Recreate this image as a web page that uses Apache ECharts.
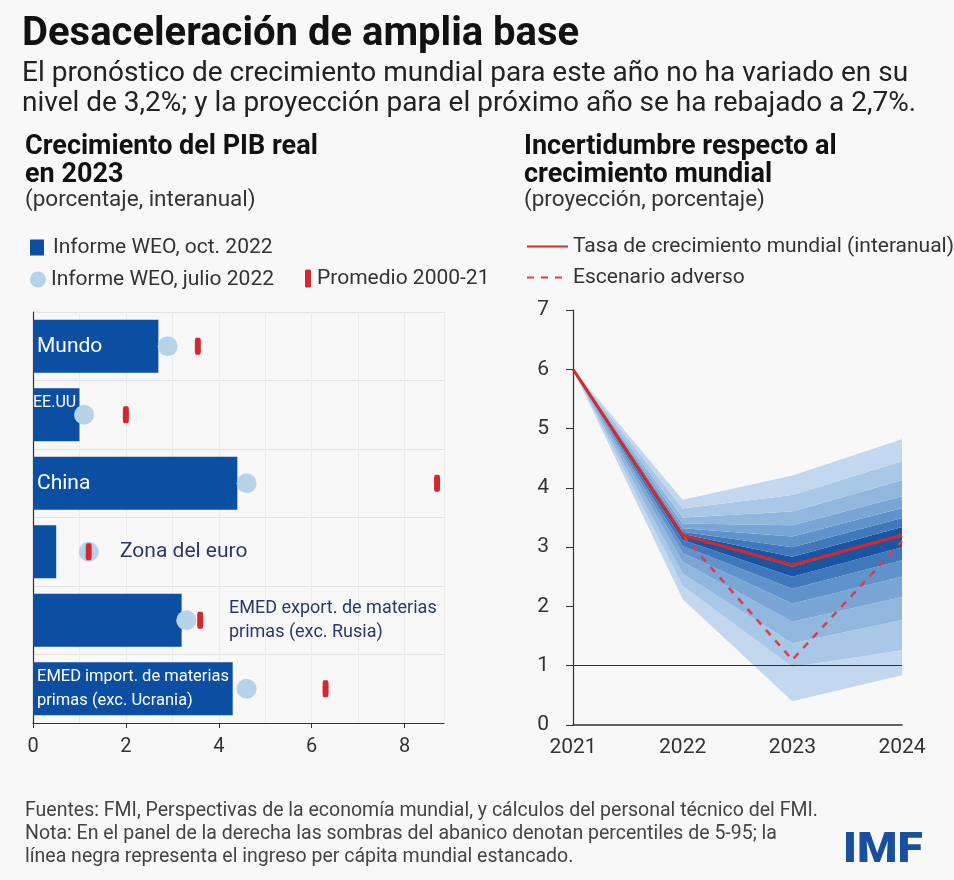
<!DOCTYPE html>
<html>
<head>
<meta charset="utf-8">
<title>Desaceleración de amplia base</title>
<script src="https://cdn.jsdelivr.net/npm/echarts@6/dist/echarts.min.js"></script>
<style>
  html, body { margin: 0; padding: 0; background: #f8f8f8; }
  #main { width: 954px; height: 880px; }
</style>
</head>
<body>
<div id="main"></div>
<script>
var chart = echarts.init(document.getElementById('main'));

// Panel izquierdo: crecimiento del PIB real en 2023
var regiones = ['Mundo', 'EE.UU', 'China', 'Zona del euro',
  'EMED export. de materias\nprimas (exc. Rusia)',
  'EMED import. de materias\nprimas (exc. Ucrania)'];
var weoOct = [2.7, 1.0, 4.4, 0.5, 3.2, 4.3];
var weoJul = [2.9, 1.1, 4.6, 1.2, 3.3, 4.6];
var promedio = [3.55, 2.0, 8.7, 1.2, 3.6, 6.3];
var ticksIzq = [0, 2, 4, 6, 8];

// Panel derecho: incertidumbre respecto al crecimiento mundial
var anios = ['2021', '2022', '2023', '2024'];
var tasa = [6.0, 3.2, 2.7, 3.2];
var adverso = [null, 3.2, 1.1, 3.1];
var ticksDer = [0, 1, 2, 3, 4, 5, 6, 7];
// bordes del abanico, de abajo (p5) hacia arriba (p95)
var abanico = [
  [6.0, 2.12, 0.40, 0.84],
  [6.0, 2.35, 0.98, 1.26],
  [6.0, 2.55, 1.38, 1.77],
  [6.0, 2.75, 1.74, 2.16],
  [6.0, 2.90, 2.05, 2.50],
  [6.0, 3.02, 2.30, 2.78],
  [6.0, 3.12, 2.50, 3.00],
  [6.0, 3.20, 2.67, 3.20],
  [6.0, 3.22, 2.84, 3.34],
  [6.0, 3.26, 3.00, 3.49],
  [6.0, 3.32, 3.18, 3.66],
  [6.0, 3.40, 3.37, 3.86],
  [6.0, 3.50, 3.60, 4.13],
  [6.0, 3.65, 3.88, 4.45],
  [6.0, 3.80, 4.21, 4.82]
];

var FONT = 'Roboto, sans-serif';
var AZUL = '#0b4ea2';
var ROJO = '#d3282e';
var coloresAbanico = ['#c3d8ee', '#a9c7e6', '#92b7de', '#7aa6d6', '#6093cb', '#4178bb', '#1a55a3'];

// estilo de las etiquetas dentro / junto a las barras
var estiloEtiqueta = [
  { position: [4, '50%'], color: '#fff', fontSize: 21 },
  { position: [0, 15], color: '#fff', fontSize: 16 },
  { position: [4, '50%'], color: '#fff', fontSize: 21 },
  { position: [87, '50%'], color: '#2b3866', fontSize: 21 },
  { position: [196, '50%'], color: '#2b3866', fontSize: 18, lineHeight: 24 },
  { position: [4, '50%'], color: '#fff', fontSize: 16.5, lineHeight: 24 }
];

var barras = weoOct.map(function (v, i) {
  var e = estiloEtiqueta[i];
  return {
    value: v,
    label: {
      show: true, position: e.position, align: 'left', verticalAlign: 'middle',
      color: e.color, fontSize: e.fontSize, lineHeight: e.lineHeight || e.fontSize + 2,
      fontFamily: FONT, overflow: 'none', formatter: regiones[i]
    }
  };
});

var series = [
  {
    name: 'Informe WEO, oct. 2022', type: 'bar', xAxisIndex: 0, yAxisIndex: 0,
    data: barras, barWidth: 53, itemStyle: { color: AZUL }, z: 2
  },
  {
    name: 'Informe WEO, julio 2022', type: 'scatter', xAxisIndex: 0, yAxisIndex: 0,
    data: weoJul, symbol: 'circle', symbolSize: 20, itemStyle: { color: '#b7d3ea', opacity: 1 }, z: 3
  },
  {
    name: 'Promedio 2000-21', type: 'scatter', xAxisIndex: 0, yAxisIndex: 0,
    data: promedio, symbol: 'roundRect', symbolSize: [6, 17], itemStyle: { color: ROJO, opacity: 1 }, z: 4
  }
];

// abanico apilado
series.push({
  type: 'line', xAxisIndex: 1, yAxisIndex: 1, data: abanico[0], stack: 'fan',
  symbol: 'none', lineStyle: { width: 0 }, silent: true, z: 1
});
for (var i = 1; i < abanico.length; i++) {
  var nivel = Math.min(i - 1, abanico.length - 1 - i);
  (function (fila, previa, color) {
    series.push({
      type: 'line', xAxisIndex: 1, yAxisIndex: 1, stack: 'fan',
      data: fila.map(function (v, j) { return +(v - previa[j]).toFixed(3); }),
      symbol: 'none', lineStyle: { width: 0 }, silent: true, z: 1,
      areaStyle: { color: color, opacity: 1 }
    });
  })(abanico[i], abanico[i - 1], coloresAbanico[nivel]);
}

series.push({
  name: 'Tasa de crecimiento mundial (interanual)', type: 'line', xAxisIndex: 1, yAxisIndex: 1,
  data: tasa, symbol: 'none', itemStyle: { color: ROJO }, lineStyle: { color: ROJO, width: 3 }, z: 5
});
series.push({
  name: 'Escenario adverso', type: 'line', xAxisIndex: 1, yAxisIndex: 1,
  data: adverso, symbol: 'none', itemStyle: { color: '#d5404c' },
  lineStyle: { color: '#d5404c', width: 2.5, type: [7, 7] }, z: 4,
  markLine: {
    silent: true, symbol: 'none', label: { show: false },
    lineStyle: { color: '#333', width: 1.2, type: 'solid' },
    data: [{ yAxis: 1 }]
  }
});

function txt(text, x, y, font, color) {
  return {
    type: 'text', x: x, y: y, silent: true,
    style: { text: text, font: font, fill: color || '#222', textVerticalAlign: 'middle', verticalAlign: 'middle' }
  };
}

var textoLeyenda = { fontSize: 21, color: '#333' };

var option = {
  backgroundColor: '#f8f8f8',
  textStyle: { fontFamily: FONT },
  animation: false,
  grid: [
    { left: 33, right: 510, top: 312, bottom: 157 },
    { left: 573, right: 52, top: 310, bottom: 155 }
  ],
  xAxis: [
    {
      type: 'value', gridIndex: 0, min: 0, max: 8.85, interval: 2,
      axisLine: { show: true, lineStyle: { color: '#333', width: 1.2 } },
      axisTick: { show: true, length: 5, lineStyle: { color: '#333' } },
      axisLabel: {
        color: '#333', fontSize: 20, margin: 14, showMaxLabel: false,
        formatter: function (v) { return ticksIzq.indexOf(v) >= 0 ? String(v) : ''; }
      },
      splitLine: { show: true, lineStyle: { color: '#ececec' } },
      minorTick: { show: false, splitNumber: 2 },
      minorSplitLine: { show: true, lineStyle: { color: '#ececec' } }
    },
    {
      type: 'category', gridIndex: 1, data: anios, boundaryGap: false,
      axisLine: { show: true, lineStyle: { color: '#333', width: 1.5 } },
      axisTick: { show: false },
      axisLabel: { color: '#333', fontSize: 21, margin: 12 },
      splitLine: { show: false }
    }
  ],
  yAxis: [
    {
      type: 'category', gridIndex: 0, data: regiones, inverse: true,
      axisLine: { show: true, lineStyle: { color: '#333', width: 1.2 } },
      axisTick: { show: false }, axisLabel: { show: false },
      splitLine: { show: true, lineStyle: { color: '#e3e3e3' } }
    },
    {
      type: 'value', gridIndex: 1, min: 0, max: 7, interval: 1,
      axisLine: { show: true, lineStyle: { color: '#333', width: 1.2 } },
      axisTick: { show: true, inside: false, length: 7, lineStyle: { color: '#333' } },
      axisLabel: {
        color: '#333', fontSize: 21, margin: 24,
        formatter: function (v) { return ticksDer.indexOf(v) >= 0 ? String(v) : ''; }
      },
      splitLine: { show: false }
    }
  ],
  legend: [
    {
      data: ['Informe WEO, oct. 2022'], left: 25, top: 232, icon: 'rect',
      itemWidth: 14, itemHeight: 16, selectedMode: false,
      textStyle: Object.assign({ padding: [0, 0, 0, 4] }, textoLeyenda)
    },
    {
      data: ['Informe WEO, julio 2022'], left: 25, top: 264, icon: 'circle',
      itemWidth: 16, itemHeight: 16, selectedMode: false,
      textStyle: Object.assign({ padding: [0, 0, 0, 0] }, textoLeyenda)
    },
    {
      data: ['Promedio 2000-21'], left: 300, top: 263, icon: 'roundRect',
      itemWidth: 6, itemHeight: 18, selectedMode: false,
      textStyle: Object.assign({ padding: [0, 0, 0, 1] }, textoLeyenda)
    },
    {
      data: ['Tasa de crecimiento mundial (interanual)'], left: 521, top: 231,
      itemWidth: 41, itemHeight: 16, selectedMode: false, itemStyle: { opacity: 0 },
      textStyle: Object.assign({ padding: [0, 0, 0, 0] }, textoLeyenda)
    },
    {
      data: ['Escenario adverso'], left: 521, top: 262,
      itemWidth: 41, itemHeight: 16, selectedMode: false, itemStyle: { opacity: 0 },
      textStyle: Object.assign({ padding: [0, 0, 0, 0] }, textoLeyenda)
    }
  ],
  graphic: [
    txt('Desaceleración de amplia base', 22, 35, 'bold 40px ' + FONT, '#111'),
    txt('El pronóstico de crecimiento mundial para este año no ha variado en su', 22, 74, '28px ' + FONT, '#222'),
    txt('nivel de 3,2%; y la proyección para el próximo año se ha rebajado a 2,7%.', 22, 104, '28px ' + FONT, '#222'),
    txt('Crecimiento del PIB real', 25, 147, 'bold 27px ' + FONT, '#111'),
    txt('en 2023', 25, 175, 'bold 27px ' + FONT, '#111'),
    txt('(porcentaje, interanual)', 25, 200, '22.5px ' + FONT, '#333'),
    txt('Incertidumbre respecto al', 524, 147, 'bold 27px ' + FONT, '#111'),
    txt('crecimiento mundial', 524, 175, 'bold 27px ' + FONT, '#111'),
    txt('(proyección, porcentaje)', 524, 200, '22.5px ' + FONT, '#333'),
    txt('Fuentes: FMI, Perspectivas de la economía mundial, y cálculos del personal técnico del FMI.', 25, 811, '19.5px ' + FONT, '#444'),
    txt('Nota: En el panel de la derecha las sombras del abanico denotan percentiles de 5-95; la', 25, 834, '19.5px ' + FONT, '#444'),
    txt('línea negra representa el ingreso per cápita mundial estancado.', 25, 857, '19.5px ' + FONT, '#444'),
    {
      type: 'text', x: 843, y: 851, scaleX: 1.1, silent: true,
      style: { text: 'IMF', font: '900 42px ' + FONT, fill: '#1a4f9e', textVerticalAlign: 'middle', verticalAlign: 'middle' }
    }
  ],
  series: series
};

chart.setOption(option);
</script>
</body>
</html>
